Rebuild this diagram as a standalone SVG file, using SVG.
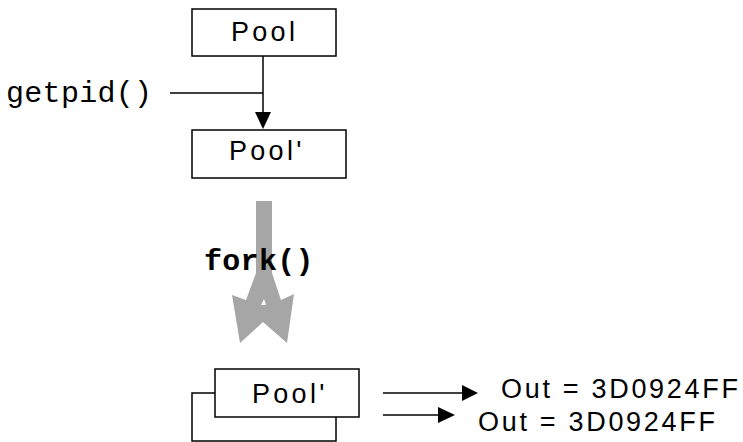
<svg xmlns="http://www.w3.org/2000/svg" width="743" height="442" viewBox="0 0 743 442">
<style>
.box{fill:#fff;stroke:#000;stroke-width:1.5}
.ln{stroke:#000;stroke-width:1.5;fill:none}
.hd{fill:#000}
.sans{font-family:"Liberation Sans",Arial,sans-serif;font-size:27px;fill:#000}
.mono{font-family:"Liberation Mono","Courier New",monospace;font-size:30px;fill:#000}
</style>
<rect width="743" height="442" fill="#fff"/>
<g id="connectors">
<line class="ln" x1="263" y1="56" x2="263" y2="113"/>
<polygon class="hd" points="255,112 271,112 263,129"/>
<line class="ln" x1="170" y1="93" x2="263" y2="93"/>
<path id="fork-arrow" fill="#a6a6a6" fill-rule="evenodd" d="M256,201 L272,201 L272,273 L281,300 L294,294 L287,343 L263,322 L240,343 L232,295 L246,300 L256,273 Z M264,299 L266,305 L261,305 Z"/>
<line class="ln" x1="383" y1="393" x2="463" y2="393"/>
<polygon class="hd" points="462,385 478,393 462,401"/>
<line class="ln" x1="383" y1="415" x2="439" y2="415"/>
<polygon class="hd" points="438,407 455,415 438,423"/>
</g>
<g id="pool">
<rect class="box" x="192" y="9" width="144" height="47"/>
<text class="sans" x="231" y="41" letter-spacing="3.3">Pool</text>
</g>
<g id="pool-prime">
<rect class="box" x="192" y="130" width="154" height="48"/>
<text class="sans" x="229" y="160" letter-spacing="3.3">Pool'</text>
</g>
<g id="pool-copies">
<rect class="box" x="192" y="393" width="144" height="48"/>
<rect class="box" x="215" y="369" width="144" height="48"/>
<text class="sans" x="252" y="403" letter-spacing="3.3">Pool'</text>
</g>
<g id="labels">
<text class="mono" x="6" y="102" letter-spacing="0.3">getpid()</text>
<text class="mono" x="204" y="270" font-weight="bold" letter-spacing="0.3">fork()</text>
<text class="sans" x="501" y="398" letter-spacing="2.7">Out = 3D0924FF</text>
<text class="sans" x="478" y="431" letter-spacing="2.7">Out = 3D0924FF</text>
</g>
</svg>
